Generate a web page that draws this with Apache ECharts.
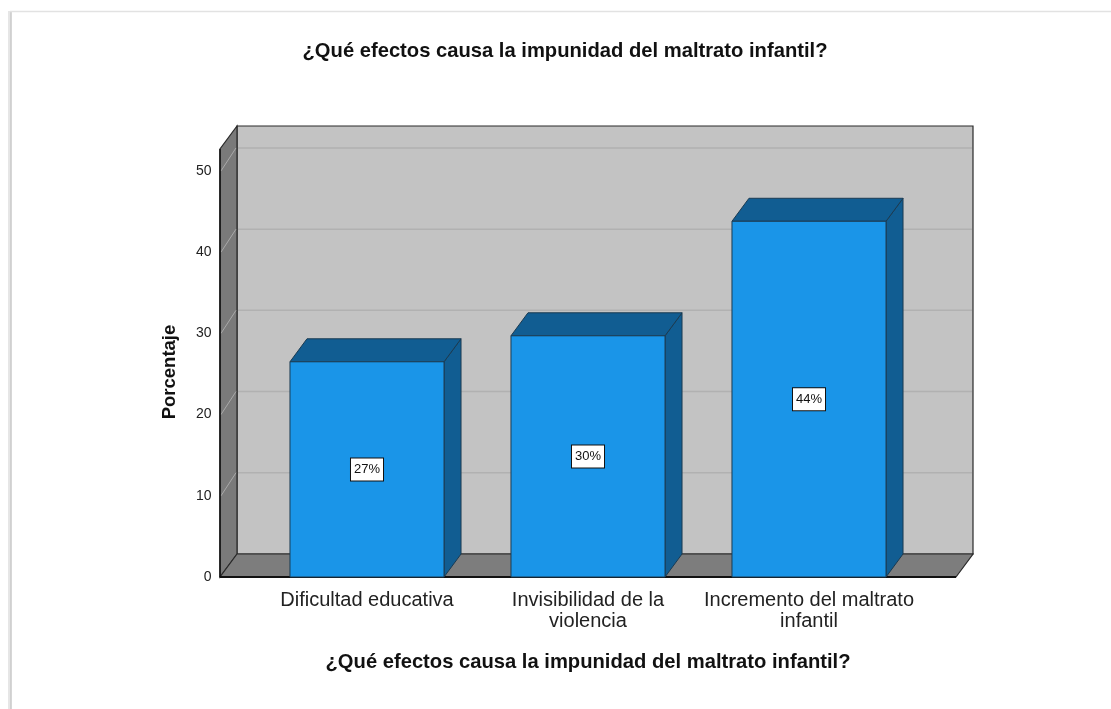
<!DOCTYPE html>
<html><head><meta charset="utf-8">
<script src="https://cdn.jsdelivr.net/npm/echarts@6/dist/echarts.min.js"></script>
<style>html,body{margin:0;padding:0;background:#fff}#c{width:1111px;height:709px}</style>
</head><body><div id="c"></div>
<script>
// ---- data ----
const categories = ['Dificultad educativa', 'Invisibilidad de la\nviolencia', 'Incremento del maltrato\ninfantil'];
const percentages = [26.5, 29.7, 43.8];
const barLabels = ['27%', '30%', '44%'];
const yTicks = [0, 10, 20, 30, 40, 50];
const titleText = '¿Qué efectos causa la impunidad del maltrato infantil?';
const xAxisTitle = '¿Qué efectos causa la impunidad del maltrato infantil?';
const yAxisTitle = 'Porcentaje';

// ---- style ----
const DX = 17, DY = -23, SIDE = 36.5, BARFRAC = 0.697, Y_MAX = 52.7;
const FONT = '"Liberation Sans", Arial, sans-serif';

function renderWalls(params, api) {
  const c0 = api.coord([0, 0]);
  const c2 = api.coord([2, 0]);
  const band = api.size([1, 0])[0];
  const xl = c0[0] - band / 2 - SIDE;
  const xr = c2[0] + band / 2 + SIDE;
  const yb = c0[1];
  const yt = api.coord([0, Y_MAX])[1];
  const ch = [];
  ch.push({type: 'rect', shape: {x: xl + DX, y: yt + DY, width: xr - xl, height: yb - yt},
    style: {fill: '#c3c3c3', stroke: '#2a2a2a', lineWidth: 1.2}});
  yTicks.forEach(v => {
    if (v === 0) return;
    const y = api.coord([0, v])[1];
    ch.push({type: 'line', shape: {x1: xl + DX + 1, y1: y + DY, x2: xr + DX - 1, y2: y + DY},
      style: {stroke: '#b1b1b1', lineWidth: 1.5}});
  });
  ch.push({type: 'polygon', shape: {points: [[xl, yb], [xl, yt], [xl + DX, yt + DY], [xl + DX, yb + DY]]},
    style: {fill: '#7a7a7a', stroke: '#2a2a2a', lineWidth: 1.2}});
  yTicks.forEach(v => {
    if (v === 0) return;
    const y = api.coord([0, v])[1];
    ch.push({type: 'line', shape: {x1: xl + 1, y1: y, x2: xl + DX - 1, y2: y + DY},
      style: {stroke: '#a9a9a9', lineWidth: 1}});
  });
  ch.push({type: 'polygon', shape: {points: [[xl, yb], [xr, yb], [xr + DX, yb + DY], [xl + DX, yb + DY]]},
    style: {fill: '#7d7d7d', stroke: '#2a2a2a', lineWidth: 1.2}});
  ch.push({type: 'line', shape: {x1: xl, y1: yb, x2: xr, y2: yb}, style: {stroke: '#111', lineWidth: 2}});
  ch.push({type: 'line', shape: {x1: xl, y1: yt, x2: xl, y2: yb}, style: {stroke: '#111', lineWidth: 1.5}});
  return {type: 'group', children: ch};
}

function renderBar(params, api) {
  const i = api.value(0), v = api.value(1);
  const base = api.coord([i, 0]);
  const top = api.coord([i, v]);
  const mid = api.coord([i, v / 2]);
  const w = api.size([1, 0])[0] * BARFRAC;
  const x0 = base[0] - w / 2, x1 = base[0] + w / 2;
  const yt = top[1], yb = base[1];
  const edge = '#1b3b52';
  return {type: 'group', children: [
    {type: 'polygon', shape: {points: [[x1, yt], [x1, yb], [x1 + DX, yb + DY], [x1 + DX, yt + DY]]},
      style: {fill: '#115d92', stroke: edge, lineWidth: 1}},
    {type: 'polygon', shape: {points: [[x0, yt], [x1, yt], [x1 + DX, yt + DY], [x0 + DX, yt + DY]]},
      style: {fill: '#115d92', stroke: edge, lineWidth: 1}},
    {type: 'rect', shape: {x: x0, y: yt, width: w, height: yb - yt},
      style: {fill: '#1a95e8', stroke: edge, lineWidth: 1}},
    {type: 'text', x: base[0], y: mid[1],
      style: {text: barLabels[params.dataIndex], align: 'center', verticalAlign: 'middle',
        fontFamily: FONT, fontSize: 13, fill: '#111', backgroundColor: '#fff',
        borderColor: '#111', borderWidth: 1, padding: [5, 3, 4, 3]}}
  ]};
}

const chart = echarts.init(document.getElementById('c'), null, {renderer: 'canvas'});
chart.setOption({
  animation: false,
  backgroundColor: '#fff',
  graphic: [
    {type: 'line', shape: {x1: 9.5, y1: 11, x2: 9.5, y2: 709}, style: {stroke: '#e6e6e6', lineWidth: 3}, silent: true},
    {type: 'line', shape: {x1: 11, y1: 11, x2: 11, y2: 709}, style: {stroke: '#c8c8c8', lineWidth: 1.5}, silent: true},
    {type: 'line', shape: {x1: 10, y1: 11.5, x2: 1111, y2: 11.5}, style: {stroke: '#e2e2e2', lineWidth: 1.5}, silent: true},
    {type: 'text', x: 565, y: 51, style: {text: titleText, align: 'center', verticalAlign: 'middle',
      fontFamily: FONT, fontWeight: 'bold', fontSize: 20.2, fill: '#111'}},
    {type: 'text', x: 170, y: 372, rotation: Math.PI / 2, style: {text: yAxisTitle, align: 'center',
      verticalAlign: 'middle', fontFamily: FONT, fontWeight: 'bold', fontSize: 18.5, fill: '#111'}}
  ],
  grid: {left: 256.5, right: 1111 - 919.5, top: 149, bottom: 132},
  xAxis: {
    type: 'category', data: categories,
    axisLine: {show: false}, axisTick: {show: false},
    axisLabel: {interval: 0, margin: 13, fontFamily: FONT, fontSize: 20, color: '#222', lineHeight: 21},
    name: xAxisTitle, nameLocation: 'middle', nameGap: 75,
    nameTextStyle: {fontFamily: FONT, fontWeight: 'bold', fontSize: 20.2, color: '#111'}
  },
  yAxis: {
    type: 'value', min: 0, max: Y_MAX, interval: 10,
    axisLine: {show: false}, axisTick: {show: false}, splitLine: {show: false},
    axisLabel: {margin: 45, fontFamily: FONT, fontSize: 14, color: '#222', showMaxLabel: false,
      formatter: v => (yTicks.indexOf(v) >= 0 ? String(v) : '')}
  },
  series: [
    {type: 'custom', renderItem: renderWalls, data: [[0, 0]], z: 1, silent: true},
    {type: 'custom', renderItem: renderBar, data: percentages.map((v, i) => [i, v]),
      encode: {x: 0, y: 1}, z: 2}
  ]
});
</script></body></html>
